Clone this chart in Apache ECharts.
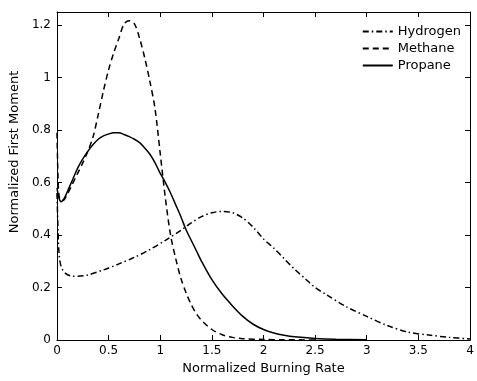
<!DOCTYPE html>
<html>
<head>
<meta charset="utf-8">
<script src="https://cdn.jsdelivr.net/npm/echarts@6/dist/echarts.min.js"></script>
<style>
html, body { margin: 0; padding: 0; background: #fff; }
#chart { width: 477px; height: 381px; }
</style>
</head>
<body>
<div id="chart"></div>
<script>
// burning rate (x) / first moment (y)
var hydrogenX = [0, 0.01, 0.02, 0.04, 0.08, 0.15, 0.2, 0.3, 0.45, 0.6, 0.75, 0.9, 1.05, 1.2, 1.3, 1.4, 1.5, 1.6, 1.7, 1.8, 1.9, 2.0, 2.1, 2.2, 2.3, 2.4, 2.5, 2.6, 2.8, 3.0, 3.2, 3.4, 3.6, 3.8, 4.0];
var hydrogenY = [0.56, 0.42, 0.33, 0.28, 0.255, 0.243, 0.243, 0.248, 0.267, 0.29, 0.315, 0.345, 0.38, 0.418, 0.446, 0.47, 0.485, 0.49, 0.485, 0.465, 0.43, 0.385, 0.35, 0.31, 0.27, 0.235, 0.2, 0.175, 0.127, 0.09, 0.055, 0.03, 0.019, 0.01, 0.004];

var methaneX = [0, 0.01, 0.02, 0.04, 0.07, 0.1, 0.15, 0.2, 0.25, 0.3, 0.35, 0.4, 0.45, 0.5, 0.55, 0.6, 0.65, 0.7, 0.75, 0.8, 0.85, 0.9, 0.95, 1.0, 1.05, 1.1, 1.15, 1.2, 1.25, 1.3, 1.35, 1.4, 1.5, 1.6, 1.7, 1.8, 2.0, 2.2, 2.5];
var methaneY = [0.79, 0.62, 0.55, 0.53, 0.535, 0.555, 0.595, 0.635, 0.675, 0.72, 0.775, 0.86, 0.95, 1.03, 1.095, 1.15, 1.205, 1.217, 1.205, 1.15, 1.075, 0.985, 0.88, 0.71, 0.54, 0.4, 0.31, 0.235, 0.18, 0.135, 0.1, 0.075, 0.04, 0.02, 0.01, 0.005, 0.002, 0.001, 0];

var propaneX = [0, 0.02, 0.04, 0.07, 0.1, 0.15, 0.2, 0.25, 0.3, 0.35, 0.4, 0.45, 0.5, 0.55, 0.6, 0.65, 0.7, 0.75, 0.8, 0.85, 0.9, 0.95, 1.0, 1.05, 1.1, 1.15, 1.2, 1.25, 1.3, 1.35, 1.4, 1.5, 1.6, 1.7, 1.8, 1.9, 2.0, 2.1, 2.2, 2.3, 2.5, 2.7, 3.0];
var propaneY = [0.58, 0.54, 0.527, 0.54, 0.565, 0.61, 0.655, 0.69, 0.72, 0.745, 0.765, 0.778, 0.785, 0.79, 0.79, 0.783, 0.775, 0.765, 0.752, 0.732, 0.708, 0.675, 0.635, 0.6, 0.56, 0.515, 0.47, 0.42, 0.38, 0.34, 0.3, 0.23, 0.175, 0.13, 0.09, 0.06, 0.04, 0.027, 0.018, 0.012, 0.006, 0.003, 0.001];

function pairs(xs, ys) {
    return xs.map(function (x, i) { return [x, ys[i]]; });
}

var font = 'DejaVu Sans';
var chart = echarts.init(document.getElementById('chart'));

var boxAxis = {
    type: 'value',
    axisLine: { show: true, onZero: false, lineStyle: { color: '#000', width: 1 } },
    axisTick: { show: true, inside: true, length: 5, lineStyle: { color: '#000' } },
    splitLine: { show: false }
};

chart.setOption({
    animation: false,
    backgroundColor: '#fff',
    grid: { left: 54, right: 7, top: 12, bottom: 41 },
    legend: {
        orient: 'vertical',
        right: 11,
        top: 20,
        itemWidth: 30,
        itemHeight: 14,
        itemGap: 4,
        align: 'left',
        itemStyle: { color: 'rgba(0,0,0,0)', borderWidth: 0, opacity: 0 },
        textStyle: { fontFamily: font, fontSize: 13, color: '#000' },
        data: ['Hydrogen', 'Methane', 'Propane']
    },
    xAxis: [
        Object.assign({}, boxAxis, {
            position: 'bottom',
            min: 0, max: 4, interval: 0.5,
            name: 'Normalized Burning Rate',
            nameLocation: 'middle',
            nameGap: 21,
            nameTextStyle: { fontFamily: font, fontSize: 13, color: '#000' },
            axisLabel: { fontFamily: font, fontSize: 12, color: '#000', margin: 5 }
        }),
        Object.assign({}, boxAxis, {
            position: 'top',
            min: 0, max: 4, interval: 0.5,
            axisLabel: { show: false }
        })
    ],
    yAxis: [
        Object.assign({}, boxAxis, {
            position: 'left',
            min: 0, max: 1.25, interval: 0.2,
            name: 'Normalized First Moment',
            nameLocation: 'middle',
            nameGap: 30,
            nameTextStyle: { fontFamily: font, fontSize: 13, color: '#000', padding: [0, 0, 0, 48] },
            axisLabel: { fontFamily: font, fontSize: 12, color: '#000', margin: 6, showMaxLabel: false }
        }),
        Object.assign({}, boxAxis, {
            position: 'right',
            min: 0, max: 1.25, interval: 0.2,
            axisLabel: { show: false }
        })
    ],
    series: [
        {
            name: 'Hydrogen',
            type: 'line',
            symbol: 'none',
            smooth: 0.3,
            lineStyle: { color: '#000', width: 1.5, type: [6, 3, 1.5, 3] },
            itemStyle: { color: '#000' },
            data: pairs(hydrogenX, hydrogenY)
        },
        {
            name: 'Methane',
            type: 'line',
            symbol: 'none',
            smooth: 0.3,
            lineStyle: { color: '#000', width: 1.5, type: [6, 4] },
            itemStyle: { color: '#000' },
            data: pairs(methaneX, methaneY)
        },
        {
            name: 'Propane',
            type: 'line',
            symbol: 'none',
            smooth: 0.3,
            lineStyle: { color: '#000', width: 1.5 },
            itemStyle: { color: '#000' },
            data: pairs(propaneX, propaneY)
        }
    ]
});
</script>
</body>
</html>
